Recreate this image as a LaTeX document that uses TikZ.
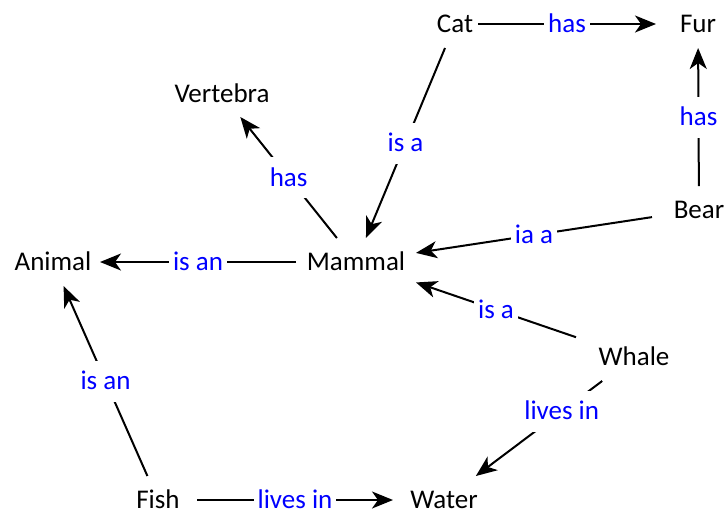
\documentclass[tikz,border=0pt]{standalone}
\usepackage{fontspec}
\setmainfont{Carlito}
\usetikzlibrary{arrows.meta}
\begin{document}
\begin{tikzpicture}[x=1pt,y=-1pt,
  concept/.style={draw=none, inner sep=0pt, outer sep=0pt, minimum height=48pt,
    text height=17pt, text depth=0pt, font=\fontsize{27}{30}\selectfont},
  lbl/.style={fill=white, text={rgb,255:red,0;green,0;blue,255}, inner xsep=4pt, inner ysep=12pt,
    text height=17pt, text depth=0pt, font=\fontsize{27}{30}\selectfont, pos=0.5},
  conn/.style={line width=2pt, -{Stealth[length=21pt,width=17pt,inset=6pt]}}]
\useasboundingbox (0,0) rectangle (726,512);
\fill[white] (0,0) rectangle (726,512);
\node[concept, minimum width=94pt] (animal) at (53,262) {Animal};
\node[concept, minimum width=120pt] (mammal) at (356,262) {Mammal};
\node[concept, minimum width=46pt] (cat) at (455,24) {Cat};
\node[concept, minimum width=84pt] (fur) at (698,24) {Fur};
\node[concept, minimum width=110pt, minimum height=46pt] (vertebra) at (222,94) {Vertebra};
\node[concept, minimum width=94pt] (bear) at (699,210) {Bear};
\node[concept, minimum width=116pt] (whale) at (634,357) {Whale};
\node[concept, minimum width=78pt] (fish) at (158,500) {Fish};
\node[concept, minimum width=102pt] (water) at (444,500) {Water};
\draw[conn] (cat) -- node[lbl]{has} (fur);
\draw[conn] (cat) -- node[lbl]{is a} (mammal);
\draw[conn] (mammal) -- node[lbl]{has} (vertebra);
\draw[conn] (bear) -- node[lbl]{has} (fur);
\draw[conn] (bear) -- node[lbl]{ia a} (mammal);
\draw[conn] (mammal) -- node[lbl]{is an} (animal);
\draw[conn] (whale) -- node[lbl]{is a} (mammal);
\draw[conn] (whale) -- node[lbl, pos=0.32]{lives in} (water);
\draw[conn] (fish) -- node[lbl]{is an} (animal);
\draw[conn] (fish) -- node[lbl]{lives in} (water);
\end{tikzpicture}
\end{document}
